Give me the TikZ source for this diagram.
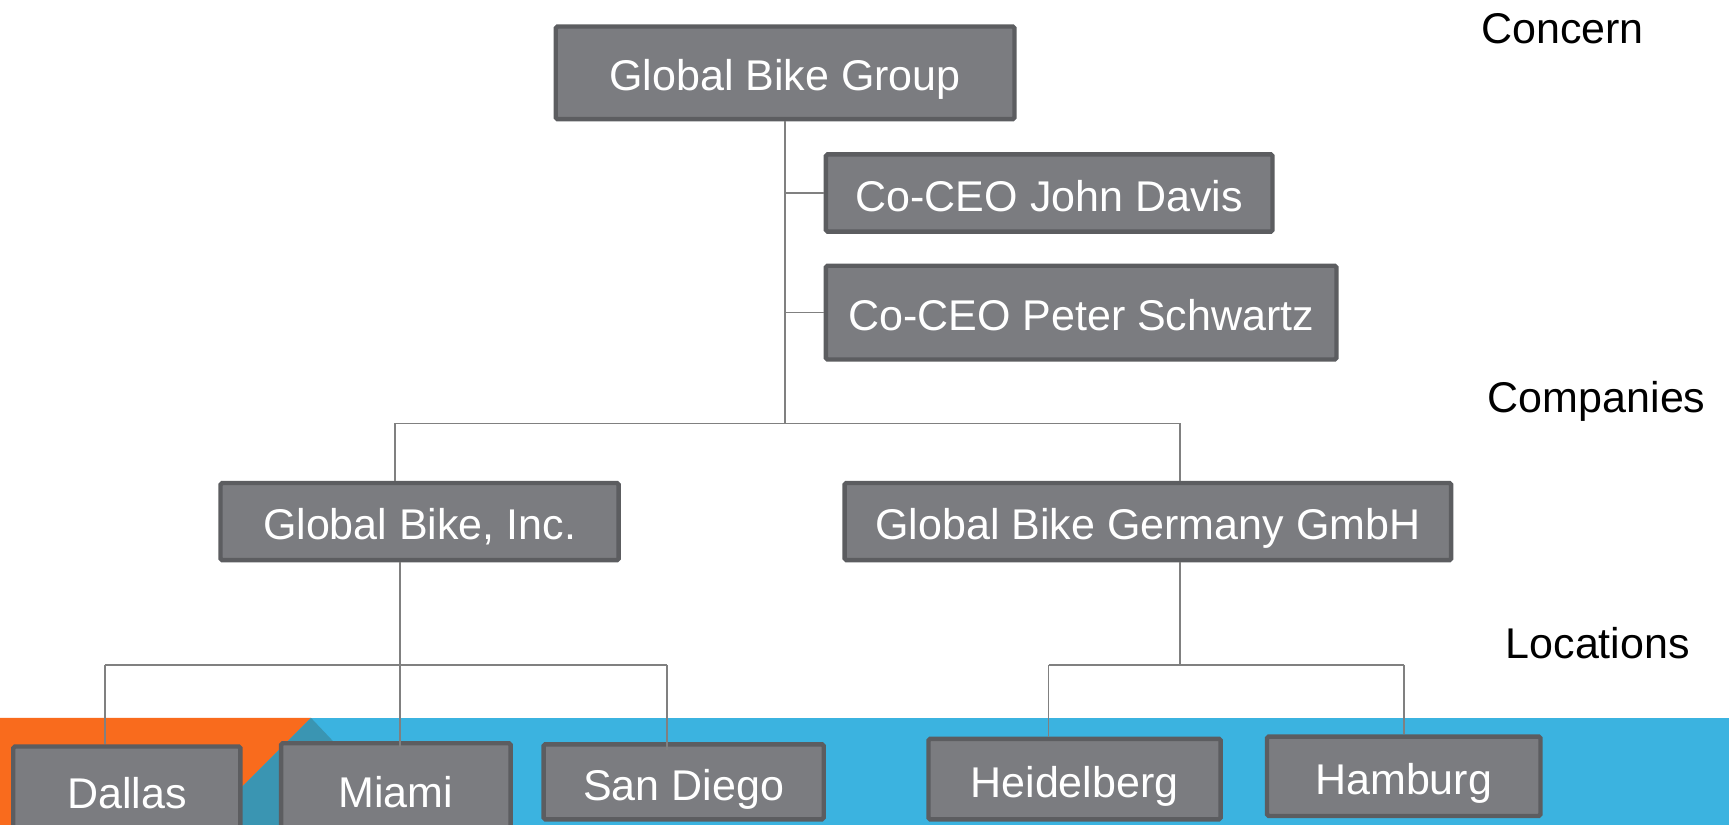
\documentclass[tikz,border=0pt]{standalone}
\usepackage{fontspec}
\setmainfont{Liberation Sans}
\definecolor{boxfill}{HTML}{7B7C80}
\definecolor{boxline}{HTML}{5C5D60}
\definecolor{bandblue}{HTML}{3BB3E0}
\definecolor{bandorange}{HTML}{F96B1D}
\definecolor{bandteal}{HTML}{3A95B2}
\definecolor{conngray}{HTML}{808080}
\tikzset{
  orgbox/.style={draw=boxline, fill=boxfill, line width=4pt, rounded corners=1.5pt,
    rectangle, inner sep=0pt, text=white, font=\fontsize{39}{45}\selectfont,
    text height=33pt, text depth=0pt, align=center},
  levellabel/.style={inner sep=0pt, text=black, font=\fontsize{39}{45}\selectfont,
    text height=28pt, text depth=0pt},
  conn/.style={draw=conngray, line width=1.5pt}
}
\begin{document}
\begin{tikzpicture}[x=1pt,y=-1pt]
\useasboundingbox (0,0) rectangle (1568,748);
% background band
\fill[bandblue] (0,651) rectangle (1568,748);
\fill[bandorange] (0,651) -- (282,651) -- (185,748) -- (0,748) -- cycle;
\fill[bandteal] (282,651) -- (374,748) -- (185,748) -- cycle;

% nodes
\node[orgbox, minimum width=416pt, minimum height=84pt] (gbg) at (712,66) {Global Bike Group};
\node[orgbox, minimum width=405pt, minimum height=70pt] (john) at (951.5,175) {Co-CEO John Davis};
\node[orgbox, minimum width=463pt, minimum height=85pt] (peter) at (980.5,283.5) {Co-CEO Peter Schwartz};
\node[orgbox, minimum width=361pt, minimum height=70pt] (inc) at (380.5,473) {Global Bike, Inc.};
\node[orgbox, minimum width=550pt, minimum height=70pt] (gmbh) at (1041,473) {Global Bike Germany GmbH};
\node[orgbox, minimum width=206pt, minimum height=80pt] (dallas) at (115,717) {Dallas};
\node[orgbox, minimum width=208pt, minimum height=84pt] (miami) at (359,716) {Miami};
\node[orgbox, minimum width=254pt, minimum height=68pt] (sandiego) at (620,709) {San Diego};
\node[orgbox, minimum width=265pt, minimum height=73pt] (heidelberg) at (974.5,706.5) {Heidelberg};
\node[orgbox, minimum width=248pt, minimum height=72pt] (hamburg) at (1273,704) {Hamburg};

% level labels
\node[levellabel] (concern) at (1417,25) {Concern};
\node[levellabel] (companies) at (1448,360) {Companies};
\node[levellabel] (locations) at (1449,583) {Locations};

% connectors
\coordinate (j1) at (712,384);
\coordinate (j2) at (363,603);
\coordinate (j2l) at (95,603);
\coordinate (j2r) at (605,603);
\coordinate (j3) at (1070,603);
\coordinate (j3l) at (951,603);
\coordinate (j3r) at (1273,603);

\draw[conn] (gbg.south) -- (j1);
\draw[conn] (gbg.south) |- (john.west);
\draw[conn] (gbg.south) |- (peter.west);
\draw[conn] ([xshift=-22pt]inc.north) |- (j1) -| ([xshift=29pt]gmbh.north);

\draw[conn] (inc.south -| j2) -- (j2);
\draw[conn] (j2l) -- (j2r);
\draw[conn] (j2l) -- (dallas.north -| j2l);
\draw[conn] (j2) -- ([yshift=-5pt]miami.north -| j2);
\draw[conn] (j2r) -- ([yshift=-7pt]sandiego.north -| j2r);

\draw[conn] (gmbh.south -| j3) -- (j3);
\draw[conn] (j3l) -- (j3r);
\draw[conn] (j3l) -- (heidelberg.north -| j3l);
\draw[conn] (j3r) -- (hamburg.north -| j3r);
\end{tikzpicture}
\end{document}
